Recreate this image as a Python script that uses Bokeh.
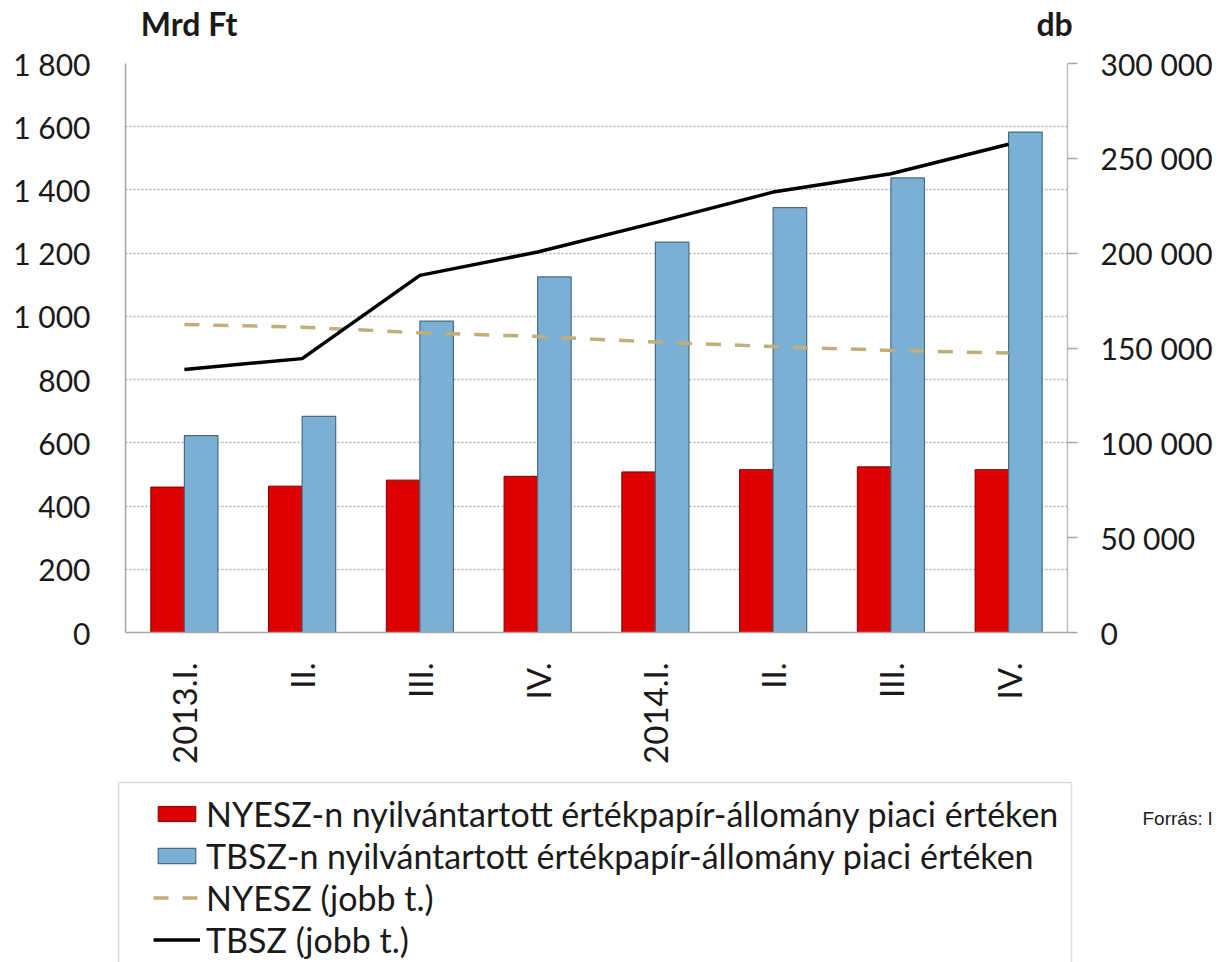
from math import pi
from bokeh.plotting import figure
from bokeh.models import (Range1d, LinearAxis, FixedTicker, Legend, LegendItem,
                          Label, BoxAnnotation, ColumnDataSource)
from bokeh.transform import dodge
from bokeh.embed import file_html
from bokeh.resources import INLINE

# ---------------- data ----------------
categories = ["2013.I.", "II.", "III.", "IV.", "2014.I.", "II.", "III.", "IV."]
nyesz_value = [460, 463, 482, 494, 508, 515, 524, 515]          # Mrd Ft
tbsz_value = [623, 684, 985, 1125, 1235, 1344, 1438, 1583]       # Mrd Ft
nyesz_count = [162400, 161000, 158000, 156100, 153100, 150800, 148700, 147300]  # db
tbsz_count = [138700, 144400, 188300, 200600, 216100, 232200, 241900, 257400]   # db

left_ticks = [0, 200, 400, 600, 800, 1000, 1200, 1400, 1600, 1800]
left_tick_labels = ["0", "200", "400", "600", "800", "1 000", "1 200", "1 400", "1 600", "1 800"]
right_ticks = [0, 50000, 100000, 150000, 200000, 250000, 300000]
right_tick_labels = ["0", "50 000", "100 000", "150 000", "200 000", "250 000", "300 000"]

series_labels = [
    "NYESZ-n nyilvántartott értékpapír-állomány piaci értéken",
    "TBSZ-n nyilvántartott értékpapír-állomány piaci értéken",
    "NYESZ (jobb t.)",
    "TBSZ (jobb t.)",
]
unit_labels = ["Mrd Ft", "db"]
source_note = "Forrás: l"

# ---------------- styles / layout ----------------
FONT = "Lato"
TXT = "#1a1a1a"
RED, RED_EDGE = "#DD0000", "#7A0000"
BLUE, BLUE_EDGE = "#7BAFD4", "#4A6A85"
TAN = "#C2AE78"
W = 1221
H_MAIN, H_LEG = 770, 192
PAGE_H = H_MAIN + H_LEG
UNIT_POS = [0.54, 7.89]   # horizontal places of the unit captions (x-scale units)

xs = [i + 0.5 for i in range(len(categories))]
src = ColumnDataSource(dict(x=xs, nyesz_value=nyesz_value, tbsz_value=tbsz_value,
                            nyesz_count=nyesz_count, tbsz_count=tbsz_count))
bw = 0.285


def quiet_axis(ax):
    ax.major_tick_out = 0
    ax.major_tick_in = 0
    ax.minor_tick_out = 0
    ax.minor_tick_in = 0


def draw_series(fig, source):
    r1 = fig.vbar(x=dodge("x", -bw / 2, range=fig.x_range), top="nyesz_value", width=bw,
                  source=source, fill_color=RED, line_color=RED_EDGE, line_width=1)
    r2 = fig.vbar(x=dodge("x", bw / 2, range=fig.x_range), top="tbsz_value", width=bw,
                  source=source, fill_color=BLUE, line_color=BLUE_EDGE, line_width=1.2)
    r3 = fig.line(x="x", y="nyesz_count", source=source, y_range_name="right",
                  line_color=TAN, line_width=3.5, line_dash="15 14")
    r4 = fig.line(x="x", y="tbsz_count", source=source, y_range_name="right",
                  line_color="#000000", line_width=3.5)
    return [r1, r2, r3, r4]


# ---------------- main chart ----------------
p = figure(width=W, height=H_MAIN, output_backend="svg", toolbar_location=None,
           x_range=Range1d(0, len(categories)), y_range=Range1d(0, 1800),
           min_border_left=125, min_border_right=154, min_border_top=63,
           min_border_bottom=H_MAIN - 632, background_fill_color="white",
           border_fill_color="white", outline_line_color=None)
p.extra_y_ranges = {"right": Range1d(0, 300000)}

xa = p.xaxis[0]
xa.ticker = FixedTicker(ticks=xs)
xa.major_label_overrides = {x: c for x, c in zip(xs, categories)}
xa.major_label_orientation = pi / 2
quiet_axis(xa)
xa.major_label_standoff = 30
xa.axis_line_color = "#A6A6A6"
xa.axis_line_width = 1.5
xa.major_label_text_font = FONT
xa.major_label_text_font_size = "33px"
xa.major_label_text_color = TXT

ya = p.yaxis[0]
ya.ticker = FixedTicker(ticks=left_ticks)
ya.major_label_overrides = {t: l for t, l in zip(left_ticks, left_tick_labels)}
quiet_axis(ya)
ya.major_label_standoff = 35
ya.axis_line_color = "#A6A6A6"
ya.axis_line_width = 1.5
ya.major_label_text_font = FONT
ya.major_label_text_font_size = "30px"
ya.major_label_text_color = TXT

ra = LinearAxis(y_range_name="right", ticker=FixedTicker(ticks=right_ticks))
ra.major_label_overrides = {t: l for t, l in zip(right_ticks, right_tick_labels)}
quiet_axis(ra)
ra.major_tick_out = 10
ra.major_tick_line_color = "#A6A6A6"
ra.major_tick_line_width = 1.5
ra.major_label_standoff = 23
ra.axis_line_color = "#BFBFBF"
ra.axis_line_width = 1.5
ra.major_label_text_font = FONT
ra.major_label_text_font_size = "30px"
ra.major_label_text_color = TXT
p.add_layout(ra, "right")

# unit captions ("Mrd Ft" over the left axis, "db" over the right axis)
ua = LinearAxis(ticker=FixedTicker(ticks=UNIT_POS))
ua.major_label_overrides = {t: l for t, l in zip(UNIT_POS, unit_labels)}
quiet_axis(ua)
ua.axis_line_color = None
ua.major_label_standoff = 21
ua.major_label_text_font = FONT
ua.major_label_text_font_style = "bold"
ua.major_label_text_font_size = "32px"
ua.major_label_text_color = TXT
p.add_layout(ua, "above")

p.xgrid.visible = False
p.ygrid.ticker = FixedTicker(ticks=left_ticks[1:])
p.ygrid.grid_line_color = "#B0B0B0"
p.ygrid.grid_line_dash = "2 2"
p.ygrid.grid_line_width = 1.5

draw_series(p, src)

# ---------------- legend strip ----------------
p_leg = figure(width=W, height=H_LEG, output_backend="svg", toolbar_location=None,
               x_range=Range1d(0, 1), y_range=Range1d(0, 1),
               x_axis_location=None, y_axis_location=None, min_border=0,
               outline_line_color=None, background_fill_color="white",
               border_fill_color="white")
p_leg.extra_y_ranges = {"right": Range1d(0, 1)}
p_leg.grid.visible = False

# legend keys: styled like the chart's series, holding no drawable value
nan = float("nan")
key_src = ColumnDataSource(dict(x=[nan], nyesz_value=[nan], tbsz_value=[nan],
                                nyesz_count=[nan], tbsz_count=[nan]))
keys = draw_series(p_leg, key_src)

legend = Legend(items=[LegendItem(label=lab, renderers=[r])
                       for lab, r in zip(series_labels, keys)],
                location=(141, PAGE_H - 972), orientation="vertical",
                glyph_width=47, glyph_height=19, label_height=41, spacing=1,
                label_standoff=6, padding=12, margin=0,
                label_text_font=FONT, label_text_font_size="34px",
                label_text_color=TXT, border_line_alpha=0,
                background_fill_alpha=0)
p_leg.add_layout(legend, "center")

p_leg.add_layout(BoxAnnotation(left=118, right=1071, top=PAGE_H - 782,
                               bottom=PAGE_H - 990,
                               left_units="screen", right_units="screen",
                               top_units="screen", bottom_units="screen",
                               fill_color=None, fill_alpha=0,
                               line_color="#8C8C8C", line_width=1.5))

p_leg.add_layout(Label(x=1142, y=PAGE_H - 818, x_units="screen", y_units="screen",
                       text=source_note, text_font="Liberation Sans",
                       text_font_size="19px", text_color=TXT,
                       text_baseline="alphabetic"))

open("out.html", "w").write(file_html([p, p_leg], INLINE))
